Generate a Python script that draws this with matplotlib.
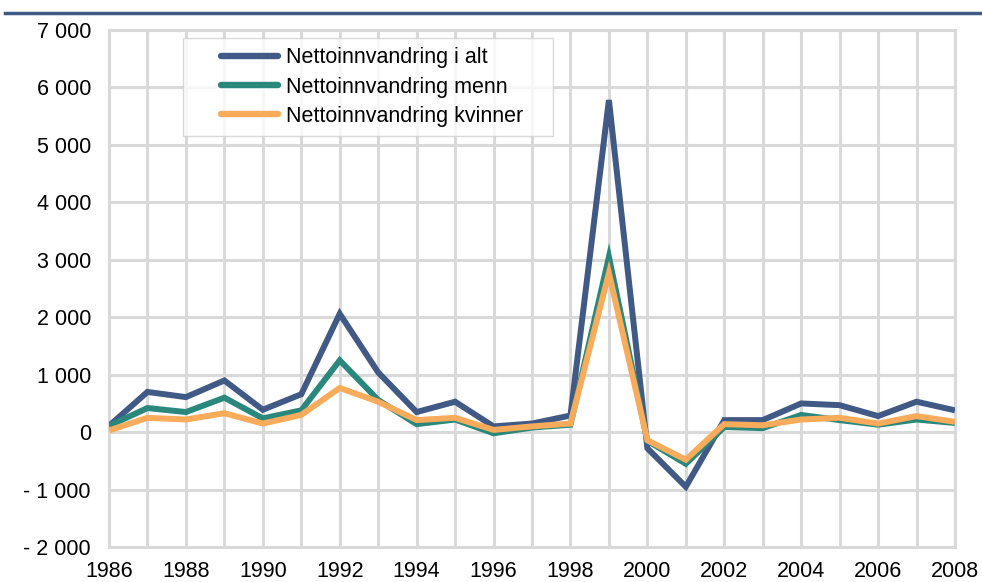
import numpy as np
import matplotlib.pyplot as plt
from matplotlib.ticker import FuncFormatter, MultipleLocator

years = np.arange(1986, 2009)
total = [110, 700, 610, 900, 390, 660, 2060, 1040, 350, 530, 100, 150, 290,
         5780, -280, -950, 210, 210, 500, 470, 280, 530, 380]
men = [110, 420, 350, 600, 240, 380, 1250, 560, 140, 220, -20, 80, 130,
       3050, -150, -550, 90, 70, 300, 210, 130, 220, 160]
women = [30, 250, 220, 330, 150, 300, 770, 530, 210, 250, 40, 100, 150,
         2770, -140, -480, 140, 120, 220, 250, 150, 280, 180]
labels = ["Nettoinnvandring i alt", "Nettoinnvandring menn",
          "Nettoinnvandring kvinner"]
colors = ["#405a85", "#2a877c", "#f9ab5c"]

plt.rcParams['font.family'] = ['Liberation Sans', 'DejaVu Sans']

fig = plt.figure(figsize=(9.82, 5.82), dpi=100)
ax = fig.add_axes([0.111, 0.060, 0.8615, 0.8885])

for vals, lab, c in zip([total, men, women], labels, colors):
    ax.plot(years, vals, color=c, lw=4.3, label=lab, solid_joinstyle='miter',
            solid_capstyle='butt', zorder=3)

ax.set_xlim(1986, 2008)
ax.set_ylim(-2000, 7000)
ax.xaxis.set_major_locator(MultipleLocator(2))
ax.xaxis.set_minor_locator(MultipleLocator(1))
ax.yaxis.set_major_locator(MultipleLocator(1000))


def fmt(v, pos):
    v = int(round(v))
    s = f"{abs(v):,}".replace(",", " ")
    return "- " + s if v < 0 else s


ax.yaxis.set_major_formatter(FuncFormatter(fmt))
grid = "#d9d9d9"
ax.grid(True, which='both', color=grid, lw=2.2, zorder=0)
for s in ax.spines.values():
    s.set_color(grid)
    s.set_linewidth(2.2)
ax.tick_params(which='both', length=0, labelsize=15.5)
ax.tick_params(axis='y', pad=13)
ax.tick_params(axis='x', pad=10)

leg = ax.legend(loc='upper left', bbox_to_anchor=(0.087, 0.80, 0.4375, 0.185),
                mode='expand', fontsize=15.5, frameon=True, fancybox=False,
                handlelength=4.0, handletextpad=0.35, borderpad=0.45,
                labelspacing=0.38, borderaxespad=0)
leg.get_frame().set_edgecolor("#d0d0d0")
leg.get_frame().set_linewidth(1.0)
# keys sit inset from the left edge of the box
for line in leg.get_lines():
    xs = np.asarray(line.get_xdata(), dtype=float)
    ys = np.asarray(line.get_ydata(), dtype=float)
    x0, x1 = xs.min(), xs.max()
    line.set_data([x0 + 0.33 * (x1 - x0), x1], [ys[0], ys[0]])
    line.set_linewidth(4.6)
    line.set_solid_capstyle('round')

# rule across the top
fig.add_artist(plt.Line2D([0.005, 1.0], [1 - 13 / 582, 1 - 13 / 582],
                          color="#405a85", lw=2.5))

fig.savefig("out.png", dpi=100)
